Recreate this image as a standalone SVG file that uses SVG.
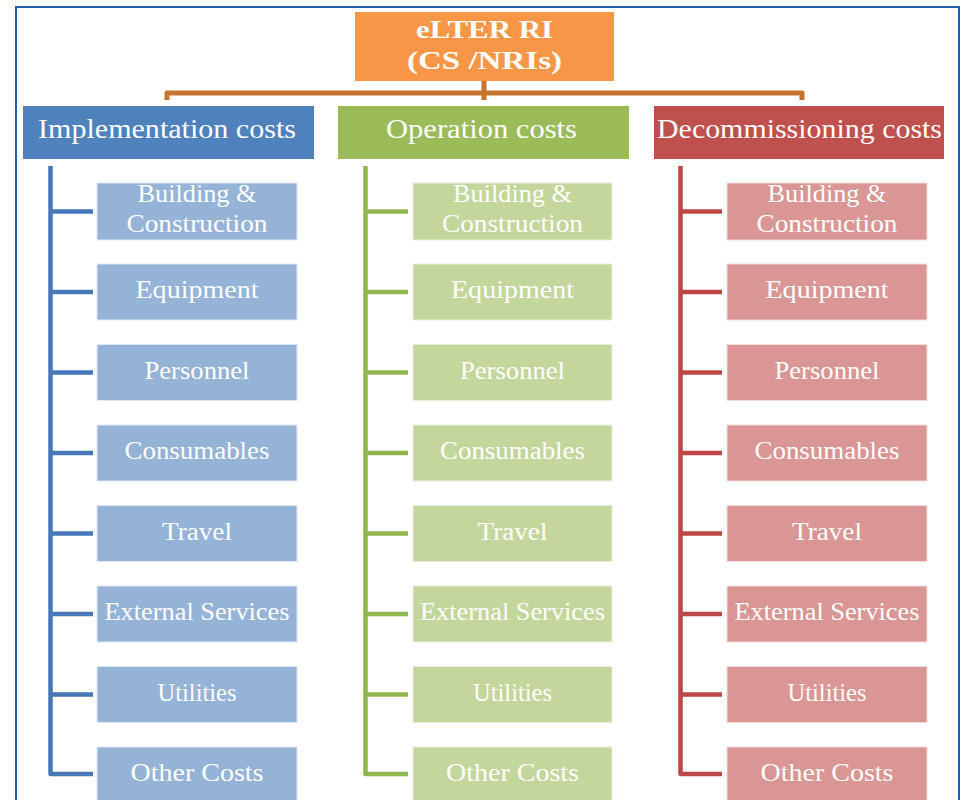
<svg xmlns="http://www.w3.org/2000/svg" width="961" height="800" viewBox="0 0 961 800">
<style>
text{font-family:"Liberation Serif","Times New Roman",serif;fill:#ffffff;text-anchor:middle}
.root{font-size:26px;font-weight:bold}
.l1{font-size:27px}
.l2{font-size:25px}
.c{fill:none;stroke-width:4.5;stroke-linejoin:round;stroke-linecap:butt}
.cb{stroke:#4677B8}.cg{stroke:#91B64E}.cr{stroke:#BC4744}.co{stroke:#C5732E;stroke-width:5}
.b1{fill:#95B3D7;stroke:#dfe8f3;stroke-width:1}
.g1{fill:#C3D69B;stroke:#e9f0da;stroke-width:1}
.r1{fill:#D99694;stroke:#f2dcdb;stroke-width:1}
</style>
<rect x="0" y="0" width="961" height="800" fill="#ffffff"/>
<rect x="16" y="7" width="943" height="820" fill="none" stroke="#1F5FA8" stroke-width="2"/>
<g id="connectors">
<path class="c co" d="M167 100 L167 93 L802 93 L802 100 M484 81 L484 100"/>
<path class="c cb" d="M50.5 166 L50.5 774 L93 774 M50.5 211.5 L93 211.5 M50.5 292 L93 292 M50.5 372.5 L93 372.5 M50.5 453 L93 453 M50.5 533.5 L93 533.5 M50.5 614 L93 614 M50.5 694.5 L93 694.5"/>
<path class="c cg" d="M365.5 166 L365.5 774 L408 774 M365.5 211.5 L408 211.5 M365.5 292 L408 292 M365.5 372.5 L408 372.5 M365.5 453 L408 453 M365.5 533.5 L408 533.5 M365.5 614 L408 614 M365.5 694.5 L408 694.5"/>
<path class="c cr" d="M680.5 166 L680.5 774 L722 774 M680.5 211.5 L722 211.5 M680.5 292 L722 292 M680.5 372.5 L722 372.5 M680.5 453 L722 453 M680.5 533.5 L722 533.5 M680.5 614 L722 614 M680.5 694.5 L722 694.5"/>
</g>
<g id="root"><rect x="355" y="12" width="259" height="69" fill="#F79646"/><text class="root" x="484.5" y="38" textLength="137" lengthAdjust="spacingAndGlyphs">eLTER RI</text><text class="root" x="484.5" y="69" textLength="155" lengthAdjust="spacingAndGlyphs">(CS /NRIs)</text></g>
<g id="impl"><rect x="23" y="106" width="291" height="53" fill="#4F81BD"/><text class="l1" x="167" y="138" textLength="258" lengthAdjust="spacingAndGlyphs">Implementation costs</text></g>
<g id="oper"><rect x="338" y="106" width="291" height="53" fill="#9BBB59"/><text class="l1" x="481.5" y="138" textLength="191" lengthAdjust="spacingAndGlyphs">Operation costs</text></g>
<g id="decom"><rect x="654" y="106" width="290" height="53" fill="#C0504D"/><text class="l1" x="799.5" y="138" textLength="285" lengthAdjust="spacingAndGlyphs">Decommissioning costs</text></g>

<g id="impl-building"><rect class="b1" x="97" y="183" width="200" height="57"/><text class="l2" x="197" y="202" textLength="119" lengthAdjust="spacingAndGlyphs">Building &amp;</text><text class="l2" x="197" y="232" textLength="141" lengthAdjust="spacingAndGlyphs">Construction</text></g>
<g id="impl-equipment"><rect class="b1" x="97" y="264" width="200" height="56"/><text class="l2" x="197" y="298" textLength="123" lengthAdjust="spacingAndGlyphs">Equipment</text></g>
<g id="impl-personnel"><rect class="b1" x="97" y="344.5" width="200" height="56"/><text class="l2" x="197" y="378.5" textLength="105" lengthAdjust="spacingAndGlyphs">Personnel</text></g>
<g id="impl-consumables"><rect class="b1" x="97" y="425" width="200" height="56"/><text class="l2" x="197" y="459" textLength="145" lengthAdjust="spacingAndGlyphs">Consumables</text></g>
<g id="impl-travel"><rect class="b1" x="97" y="505.5" width="200" height="56"/><text class="l2" x="197" y="539.5" textLength="70" lengthAdjust="spacingAndGlyphs">Travel</text></g>
<g id="impl-external"><rect class="b1" x="97" y="586" width="200" height="56"/><text class="l2" x="197" y="620" textLength="185" lengthAdjust="spacingAndGlyphs">External Services</text></g>
<g id="impl-utilities"><rect class="b1" x="97" y="666.5" width="200" height="56"/><text class="l2" x="197" y="700.5" textLength="79" lengthAdjust="spacingAndGlyphs">Utilities</text></g>
<g id="impl-other"><rect class="b1" x="97" y="747" width="200" height="56"/><text class="l2" x="197" y="781" textLength="133" lengthAdjust="spacingAndGlyphs">Other Costs</text></g>

<g id="oper-building"><rect class="g1" x="413" y="183" width="199" height="57"/><text class="l2" x="512.5" y="202" textLength="119" lengthAdjust="spacingAndGlyphs">Building &amp;</text><text class="l2" x="512.5" y="232" textLength="141" lengthAdjust="spacingAndGlyphs">Construction</text></g>
<g id="oper-equipment"><rect class="g1" x="413" y="264" width="199" height="56"/><text class="l2" x="512.5" y="298" textLength="123" lengthAdjust="spacingAndGlyphs">Equipment</text></g>
<g id="oper-personnel"><rect class="g1" x="413" y="344.5" width="199" height="56"/><text class="l2" x="512.5" y="378.5" textLength="105" lengthAdjust="spacingAndGlyphs">Personnel</text></g>
<g id="oper-consumables"><rect class="g1" x="413" y="425" width="199" height="56"/><text class="l2" x="512.5" y="459" textLength="145" lengthAdjust="spacingAndGlyphs">Consumables</text></g>
<g id="oper-travel"><rect class="g1" x="413" y="505.5" width="199" height="56"/><text class="l2" x="512.5" y="539.5" textLength="70" lengthAdjust="spacingAndGlyphs">Travel</text></g>
<g id="oper-external"><rect class="g1" x="413" y="586" width="199" height="56"/><text class="l2" x="512.5" y="620" textLength="185" lengthAdjust="spacingAndGlyphs">External Services</text></g>
<g id="oper-utilities"><rect class="g1" x="413" y="666.5" width="199" height="56"/><text class="l2" x="512.5" y="700.5" textLength="79" lengthAdjust="spacingAndGlyphs">Utilities</text></g>
<g id="oper-other"><rect class="g1" x="413" y="747" width="199" height="56"/><text class="l2" x="512.5" y="781" textLength="133" lengthAdjust="spacingAndGlyphs">Other Costs</text></g>

<g id="decom-building"><rect class="r1" x="727" y="183" width="200" height="57"/><text class="l2" x="827" y="202" textLength="119" lengthAdjust="spacingAndGlyphs">Building &amp;</text><text class="l2" x="827" y="232" textLength="141" lengthAdjust="spacingAndGlyphs">Construction</text></g>
<g id="decom-equipment"><rect class="r1" x="727" y="264" width="200" height="56"/><text class="l2" x="827" y="298" textLength="123" lengthAdjust="spacingAndGlyphs">Equipment</text></g>
<g id="decom-personnel"><rect class="r1" x="727" y="344.5" width="200" height="56"/><text class="l2" x="827" y="378.5" textLength="105" lengthAdjust="spacingAndGlyphs">Personnel</text></g>
<g id="decom-consumables"><rect class="r1" x="727" y="425" width="200" height="56"/><text class="l2" x="827" y="459" textLength="145" lengthAdjust="spacingAndGlyphs">Consumables</text></g>
<g id="decom-travel"><rect class="r1" x="727" y="505.5" width="200" height="56"/><text class="l2" x="827" y="539.5" textLength="70" lengthAdjust="spacingAndGlyphs">Travel</text></g>
<g id="decom-external"><rect class="r1" x="727" y="586" width="200" height="56"/><text class="l2" x="827" y="620" textLength="185" lengthAdjust="spacingAndGlyphs">External Services</text></g>
<g id="decom-utilities"><rect class="r1" x="727" y="666.5" width="200" height="56"/><text class="l2" x="827" y="700.5" textLength="79" lengthAdjust="spacingAndGlyphs">Utilities</text></g>
<g id="decom-other"><rect class="r1" x="727" y="747" width="200" height="56"/><text class="l2" x="827" y="781" textLength="133" lengthAdjust="spacingAndGlyphs">Other Costs</text></g>
</svg>
